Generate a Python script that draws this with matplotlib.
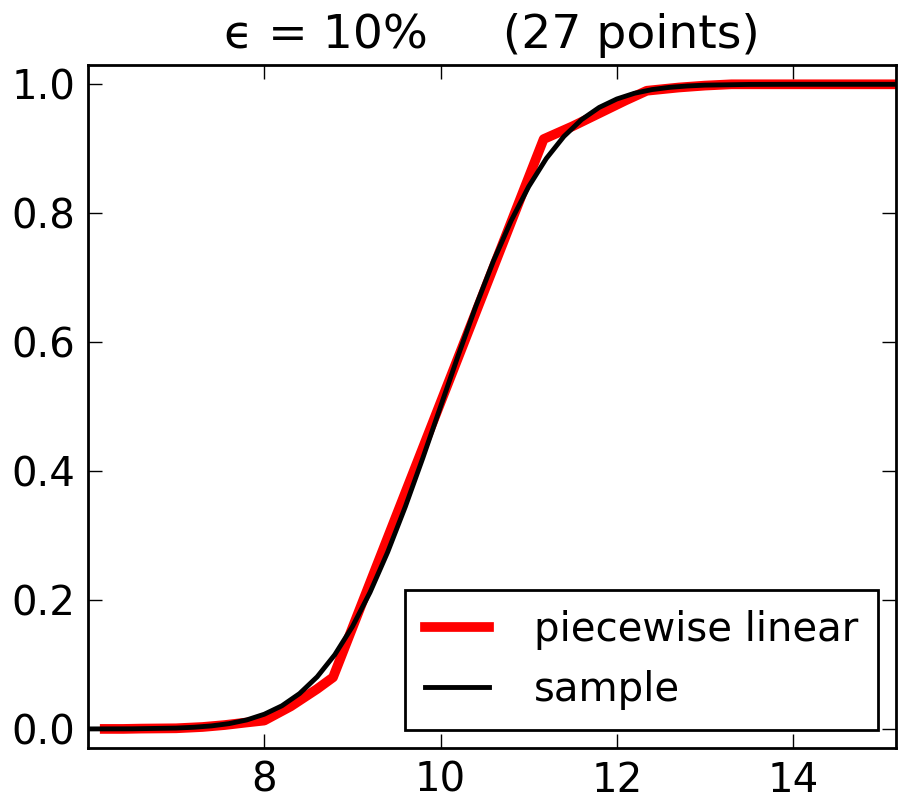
import numpy as np
import matplotlib
matplotlib.use("Agg")
import matplotlib.pyplot as plt

# piecewise linear approximation (27 points)
pw_x = [6.19, 6.4, 6.6, 7.0, 7.15, 7.3, 7.55, 7.8, 8.0, 8.3, 8.6, 8.78,
        11.17, 11.5, 11.8, 12.1, 12.34, 12.7, 13.0, 13.3, 13.6, 13.9,
        14.2, 14.5, 14.8, 15.0, 15.17]
pw_y = [0.0, 0.0, 0.0005, 0.001, 0.002, 0.003, 0.006, 0.010, 0.013, 0.035,
        0.062, 0.08, 0.915, 0.935, 0.955, 0.975, 0.99, 0.995, 0.998, 1.0,
        1.0, 1.0, 1.0, 1.0, 1.0, 1.0, 1.0]

# sampled curve
s_x = [6.0, 6.5, 7.0, 7.2, 7.4, 7.6, 7.8, 8.0, 8.2, 8.4, 8.6, 8.8, 9.0,
       9.2, 9.4, 9.6, 9.8, 10.0, 10.2, 10.4, 10.6, 10.8, 11.0, 11.2, 11.4,
       11.6, 11.8, 12.0, 12.2, 12.4, 12.6, 12.8, 13.0, 13.5, 14.0, 15.17]
s_y = [0.0, 0.0002, 0.0013, 0.0026, 0.0047, 0.0082, 0.0139, 0.0228, 0.0359,
       0.0548, 0.0808, 0.1151, 0.1587, 0.2119, 0.2743, 0.3446, 0.4207, 0.5,
       0.5793, 0.6554, 0.7257, 0.7881, 0.8413, 0.8849, 0.9192, 0.9452,
       0.9641, 0.9772, 0.9861, 0.9918, 0.9953, 0.9974, 0.9987, 0.9998, 1.0,
       1.0]

fig = plt.figure(figsize=(8.98, 8.02), dpi=100)
ax = fig.add_axes([0.098, 0.067, 0.9, 0.852])

ax.plot(pw_x, pw_y, color='red', lw=7, label='piecewise linear')
ax.plot(s_x, s_y, color='black', lw=3.5, label='sample')

ax.set_xlim(6.0, 15.17)
ax.set_ylim(-0.03, 1.03)
ax.set_xticks([8, 10, 12, 14])
ax.set_yticks([0.0, 0.2, 0.4, 0.6, 0.8, 1.0])
ax.tick_params(direction='in', top=True, right=True, length=10, width=1,
               labelsize=29, pad=9)
for sp in ax.spines.values():
    sp.set_linewidth(2)

ax.set_title('\u03f5 = 10%     (27 points)', fontsize=34, pad=12)

leg = ax.legend(loc='lower right', fontsize=29, handlelength=1.6,
                fancybox=False, edgecolor='black', framealpha=1,
                borderpad=0.5, labelspacing=0.5, handletextpad=1.1,
                borderaxespad=0.45)
leg.get_frame().set_linewidth(2)

fig.savefig('out.png', dpi=100)
